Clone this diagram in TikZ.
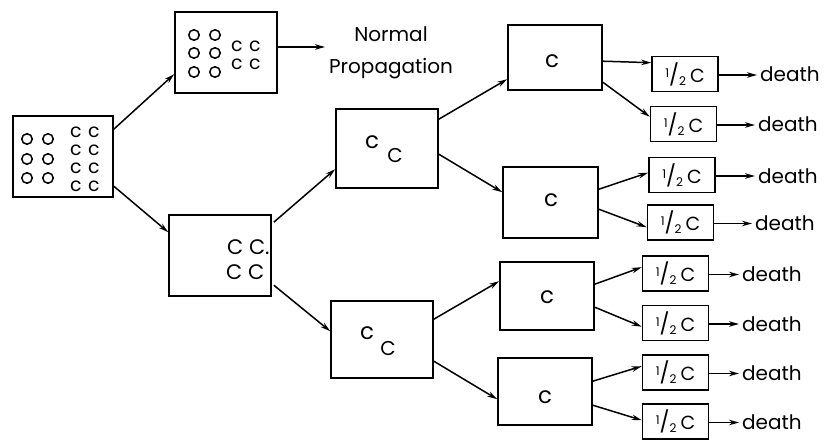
\documentclass[tikz,border=0pt]{standalone}
\usepackage{fontspec}
\setmainfont{Poppins}
\usetikzlibrary{arrows.meta,calc}
% slashed one-half followed by C
\newcommand\halfC{\raisebox{5pt}{\fontsize{12}{12}\selectfont 1}{\fontsize{21}{21}\selectfont/}\raisebox{-3pt}{\fontsize{12}{12}\selectfont 2}\kern4pt C}
\begin{document}
\begin{tikzpicture}[x=1pt,y=-1pt,
  box/.style 2 args={draw,line width=1.6pt,inner sep=0pt,minimum width=#1,minimum height=#2},
  half/.style={box={66pt}{35pt},font=\fontsize{19}{19}\selectfont},
  link/.style={line width=1.5pt,-{Stealth[length=10pt,width=5.5pt]}},
  cell/.style={draw,circle,line width=1.5pt,minimum size=10.5pt,inner sep=0pt},
  lab/.style={inner sep=0pt,font=\fontsize{19}{19}\selectfont},
  big/.style={inner sep=0pt,font=\fontsize{23}{23}\selectfont},
  word/.style={inner sep=0pt,anchor=base west,font=\fontsize{20}{20}\selectfont}]
\useasboundingbox (0,0) rectangle (825,441);

% main boxes
\node[box={100pt}{81pt}] (A) at (63,156.5) {};
\node[box={102pt}{81pt}] (B) at (226,52.5) {};
\node[box={102pt}{81pt}] (C) at (220,255.5) {};
\node[box={102pt}{79pt}] (D) at (387,148.5) {};
\node[box={102pt}{77pt}] (E) at (382,339.5) {};
\node[box={94pt}{65pt}]  (F) at (555,57.5) {};
\node[box={95pt}{71pt}]  (G) at (550.5,202.5) {};
\node[box={94pt}{68pt}]  (H) at (547,296) {};
\node[box={94pt}{67pt}]  (I) at (545,391.5) {};

% contents of the first box: cells and c's
\foreach \r [count=\k] in {139,159,178}{
  \node[cell] (Ao\k a) at (27,\r) {};
  \node[cell] (Ao\k b) at (48,\r) {};
}
\foreach \r [count=\k] in {132,150,168,186}{
  \node[lab] (Ac\k a) at (76,\r) {c};
  \node[lab] (Ac\k b) at (94,\r) {c};
}
% contents of the upper second box
\foreach \r [count=\k] in {35,53,72}{
  \node[cell] (Bo\k a) at (194,\r) {};
  \node[cell] (Bo\k b) at (215,\r) {};
}
\foreach \r [count=\k] in {46,64}{
  \node[lab] (Bc\k a) at (237,\r) {c};
  \node[lab] (Bc\k b) at (255,\r) {c};
}
% contents of the lower second box
\node[big,anchor=west,font=\fontsize{21}{21}\selectfont] (Cc1) at (227,247) {C C.};
\node[big,anchor=west,font=\fontsize{21}{21}\selectfont] (Cc2) at (226,272) {C C};
% third column
\node[big] (Dc1) at (372,142) {c};
\node[big,font=\fontsize{20}{20}\selectfont] (Dc2) at (395,156) {C};
\node[big] (Ec1) at (367,333) {c};
\node[big,font=\fontsize{20}{20}\selectfont] (Ec2) at (388,348) {C};
% fourth column
\node[big] (Fc) at (552,61) {c};
\node[big] (Gc) at (551,200) {c};
\node[big] (Hc) at (547,297) {c};
\node[big] (Ic) at (545,397) {c};

% normal propagation
\coordinate (np) at (325,47);
\draw[link] (B.east |- np) -- (np);
\node[align=center,inner sep=0pt,font=\fontsize{20}{32}\selectfont] (N) at (391,53) {Normal\\Propagation};

% connectors between the large boxes
\draw[link] ($(A.north east)+(0,14)$) -- ($(B.north west)+(0,63)$);
\draw[link] ($(A.north east)+(0,71)$) -- ($(C.north west)+(0,18)$);
\draw[link] ($(C.north east)+(2,8)$)  -- ($(D.north west)+(0,61)$);
\draw[link] ($(C.north east)+(2,71)$) -- ($(E.north west)+(0,31)$);
\draw[link] ($(D.north east)+(0,11)$) -- ($(F.north west)+(0,55)$);
\draw[link] ($(D.north east)+(0,46)$) -- ($(G.north west)+(0,26)$);
\draw[link] ($(E.north east)+(0,19)$) -- ($(H.north west)+(0,20)$);
\draw[link] ($(E.north east)+(0,61)$) -- ($(I.north west)+(0,42)$);

% halves with their ends
\foreach \n/\x/\y/\w in {1/685/74/760, 2/683.5/124/758, 3/682/175/758, 4/680.5/222.5/755,
                      5/675.5/273.5/742, 6/675.5/323/742, 7/675.5/372.5/742, 8/675.5/421.5/742}{
  \node[half] (h\n) at (\x,\y) {\halfC};
  \coordinate (t\n) at (\w-3,\y+1);
  \draw[link] (h\n.east |- t\n) -- (t\n);
  \node[word] (d\n) at (\w,\y+8) {death};
}

% connectors to the halves
\draw[link] ($(F.north east)+(0,37)$) -- ($(h1.north west)+(0,7)$);
\draw[link] ($(F.north east)+(0,58)$) -- ($(h2.north west)+(0,11)$);
\draw[link] ($(G.north east)+(0,23)$) -- ($(h3.north west)+(0,16)$);
\draw[link] ($(G.north east)+(0,43)$) -- ($(h4.north west)+(0,23)$);
\draw[link] ($(H.north east)+(0,23)$) -- ($(h5.north west)+(0,12)$);
\draw[link] ($(H.north east)+(0,46)$) -- ($(h6.north west)+(0,22)$);
\draw[link] ($(I.north east)+(0,24)$) -- ($(h7.north west)+(0,12)$);
\draw[link] ($(I.north east)+(0,48)$) -- ($(h8.north west)+(0,17)$);
\end{tikzpicture}
\end{document}
